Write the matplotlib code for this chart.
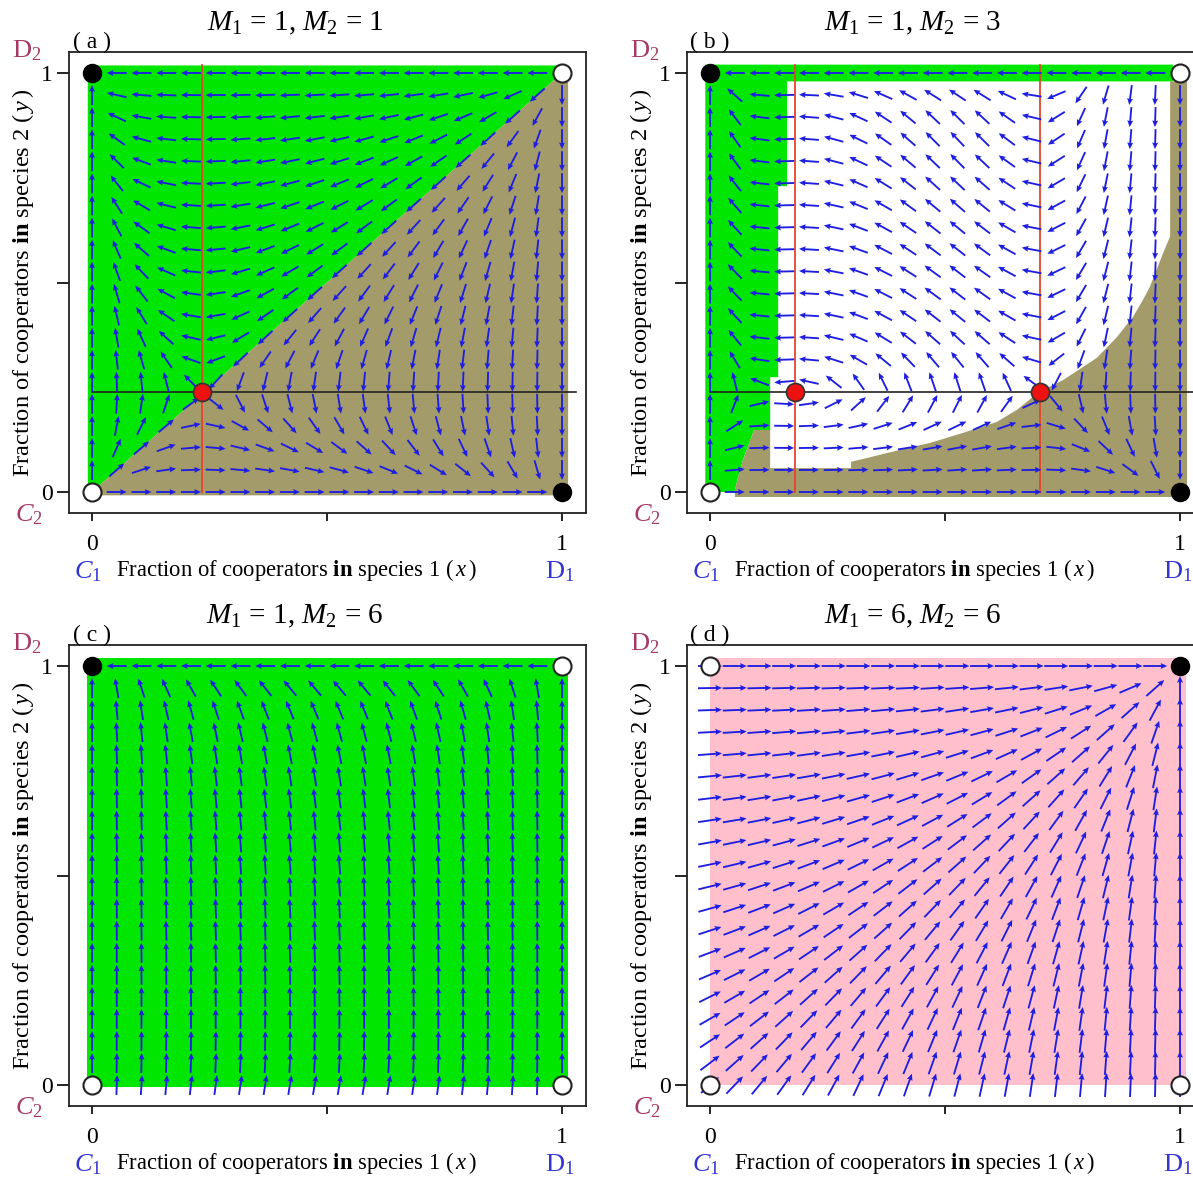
import numpy as np
import matplotlib.pyplot as plt

W, H = 1193, 1177
plt.rcParams["font.family"] = ["Liberation Serif", "Noto Sans CJK SC"]
plt.rcParams["mathtext.fontset"] = "custom"
plt.rcParams["mathtext.rm"] = "Liberation Serif"
plt.rcParams["mathtext.it"] = "Liberation Serif:italic"
plt.rcParams["mathtext.bf"] = "Liberation Serif:bold"

# ---- values ----
tags = ["( a )", "( b )", "( c )", "( d )"]
m1 = [1, 1, 1, 6]
m2 = [1, 3, 6, 6]

# corner equilibria: filled = stable, open = unstable
stable_x = [[1, 0], [0, 1], [0], [1]]
stable_y = [[0, 1], [1, 0], [1], [1]]
unstable_x = [[0, 1], [0, 1], [0, 1, 1], [0, 0, 1]]
unstable_y = [[0, 1], [0, 1], [0, 0, 1], [0, 1, 0]]

# interior equilibria (red dots)
interior_x = [[0.234], [0.181, 0.702], [], []]
interior_y = [[0.239], [0.239, 0.239], [], []]

# nullclines: dy/dt = 0 (red, vertical) and dx/dt = 0 (black, horizontal)
red_x = [[0.234], [0.181, 0.702], [], []]
black_y = [[0.239], [0.239], [], []]

# basins of attraction
a_green_x = [-0.009, -0.009, 1.0, 1.0, 0.0]
a_green_y = [0.0, 1.018, 1.018, 1.0, 0.0]
a_olive_x = [0.0, 1.0, 1.013, 1.013, 0.0]
a_olive_y = [0.0, 1.0, 1.0, -0.008, -0.008]

b_green_x = [-0.01, -0.01, 0.985, 0.985, 0.164, 0.164, 0.145, 0.145, 0.128,
             0.128, 0.095, 0.091, 0.07, 0.06, 0.053, 0.053]
b_green_y = [0.0, 1.02, 1.02, 0.98, 0.98, 0.73, 0.73, 0.274, 0.274,
             0.148, 0.148, 0.14, 0.076, 0.036, 0.005, 0.0]
b_olive_x = [0.053, 0.053, 0.06, 0.07, 0.091, 0.095, 0.128, 0.128, 0.30, 0.30,
             0.377, 0.447, 0.468, 0.538, 0.61, 0.653, 0.70, 0.751, 0.823,
             0.866, 0.90, 0.921, 0.936, 0.964, 0.979, 0.979, 1.015, 1.015]
b_olive_y = [-0.012, 0.005, 0.036, 0.076, 0.14, 0.148, 0.148, 0.057, 0.057, 0.072,
             0.093, 0.112, 0.117, 0.141, 0.167, 0.196, 0.239, 0.267, 0.32,
             0.37, 0.418, 0.458, 0.49, 0.57, 0.61, 0.98, 0.98, -0.012]

c_green_x = [-0.01, -0.01, 1.013, 1.013]
c_green_y = [-0.005, 1.02, 1.02, -0.005]
d_pink_x = [0.0, 0.0, 1.013, 1.013]
d_pink_y = [0.0, 1.02, 1.02, 0.0]

# extra root of dy/dt seen in (b) at the green/white edge
b_extra_root = 0.13

GREEN, OLIVE, PINK = "#00E600", "#A39B69", "#FFC0CB"
ARROW = "#1E1EE0"
C_BLUE, C_MAROON = "#3434D2", "#A53A66"

grid = np.linspace(0, 1, 20)
X, Y = np.meshgrid(grid, grid)


def field(i):
    if i == 0:
        xs, ys = red_x[0][0], black_y[0][0]
        return X * (1 - X) * (ys - Y), Y * (1 - Y) * (xs - X)
    if i == 1:
        ys = black_y[1][0]
        r1, r2 = red_x[1]
        u = X * (1 - X) * (ys - Y) * ((1 - Y) ** 2 + 0.02)
        v = 2.5 * Y * (1 - Y) * (X - b_extra_root) * (X - r1) * (r2 - X)
        return u, v
    if i == 2:
        return 0.2 * X * (1 - X) * (0.15 - Y), (1 - Y) * (Y + 0.05)
    return (1 - X) * (Y + 0.5), (1 - Y) * (X + 0.5)


fig = plt.figure(figsize=(W / 100, H / 100), dpi=100)

origins = [(92, 73), (710, 73), (92, 666), (710, 666)]  # pixel of data (0, 1)
SX, SY = 470, 419  # pixels per data unit


def put(px, py, s, **kw):
    fig.text(px / W, 1 - py / H, s, **kw)


fills = [
    [(a_green_x, a_green_y, GREEN), (a_olive_x, a_olive_y, OLIVE)],
    [(b_green_x, b_green_y, GREEN), (b_olive_x, b_olive_y, OLIVE)],
    [(c_green_x, c_green_y, GREEN)],
    [(d_pink_x, d_pink_y, PINK)],
]
arrow_px = [20, 20, 20, 24]

for i in range(4):
    x0, y1 = origins[i]
    left = (x0 - 0.05 * SX) / W
    bottom = 1 - (y1 + 1.05 * SY) / H
    ax = fig.add_axes([left, bottom, 1.1 * SX / W, 1.1 * SY / H])
    ax.set_xlim(-0.05, 1.05)
    ax.set_ylim(-0.05, 1.05)

    for fx, fy, col in fills[i]:
        ax.fill(fx, fy, color=col, lw=0, zorder=1)

    for xv in red_x[i]:
        ax.plot([xv, xv], [0, 1.02], color="#E8432D", lw=1.3, zorder=2)
    for yv in black_y[i]:
        ax.plot([0, 1.03], [yv, yv], color="#222222", lw=1.2, zorder=2)

    U, V = field(i)
    up, vp = U * SX, V * SY
    mag = np.hypot(up, vp)
    keep = mag > 1e-12
    L = arrow_px[i]
    ax.quiver(X[keep], Y[keep],
              up[keep] / mag[keep] * L / SX, vp[keep] / mag[keep] * L / SY,
              angles="xy", scale_units="xy", scale=1, pivot="middle",
              color=ARROW, width=0.0036, headwidth=3.2, headlength=3.6,
              headaxislength=3.2, zorder=3)

    ax.plot(stable_x[i], stable_y[i], "o", ms=13, mfc="black", mec="black",
            zorder=5, clip_on=False)
    ax.plot(unstable_x[i], unstable_y[i], "o", ms=13, mfc="white", mec="#222222",
            mew=1.5, zorder=5, clip_on=False)
    if interior_x[i]:
        ax.plot(interior_x[i], interior_y[i], "o", ms=13, mfc="#EE1111",
                mec="#333333", mew=1.2, zorder=6)

    ax.set_xticks([0, 0.5, 1], ["0", "", "1"])
    ax.set_yticks([0, 0.5, 1], ["0", "", "1"])
    ax.tick_params(axis="x", length=6, width=1.2, labelsize=17, pad=9)
    ax.tick_params(axis="y", length=9, width=1.2, labelsize=17, pad=2)
    for sp in ax.spines.values():
        sp.set_linewidth(1.3)
        sp.set_color("#222222")

    y0 = y1 + SY
    x1 = x0 + SX
    put(x0 + 203, y1 - 43, rf"$M_1$ = {m1[i]}, $M_2$ = {m2[i]}",
        ha="center", va="baseline", fontsize=21)
    put(x0, y1 - 31, tags[i], ha="center", va="center", fontsize=17)
    put(x0 + 204, y0 + 78,
        r"Fraction of cooperators $\mathbf{in}$ species 1 ($\,x\,$)",
        ha="center", va="center", fontsize=16.3)
    put(x0 - 69, y1 + 210,
        r"Fraction of cooperators $\mathbf{in}$ species 2 ($\,y\,$)",
        ha="center", va="center", rotation=90, fontsize=17.6)
    put(x0 - 4, y0 + 80, r"$C_1$", color=C_BLUE, ha="center", va="center",
        fontsize=19)
    put(x0 - 2, y0 + 80, "", fontsize=1)
    put(x1 - 2, y0 + 80, r"$\mathrm{D}_1$", color=C_BLUE, ha="center",
        va="center", fontsize=19)
    put(x0 - 63, y0 + 23, r"$C_2$", color=C_MAROON, ha="center", va="center",
        fontsize=19)
    put(x0 - 65, y1 - 22, r"$\mathrm{D}_2$", color=C_MAROON, ha="center",
        va="center", fontsize=19)

fig.savefig("out.png", dpi=100)
